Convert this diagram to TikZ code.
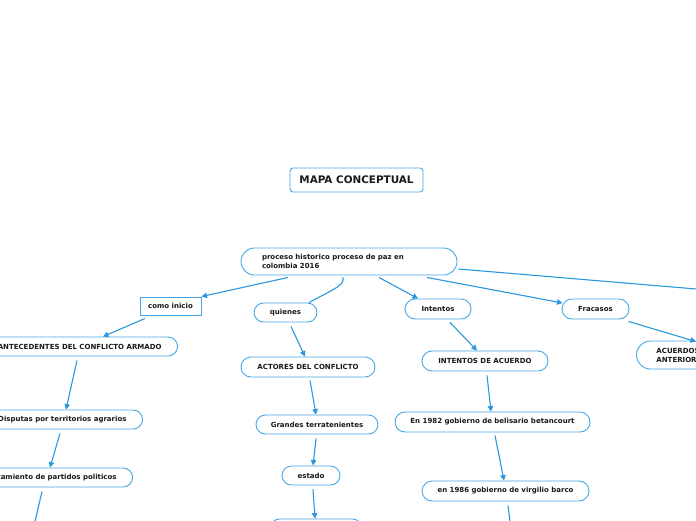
\documentclass[tikz,border=0pt]{standalone}
\usepackage{fontspec}
\setmainfont{DejaVu Sans}
\usetikzlibrary{arrows.meta,calc}
\definecolor{linec}{HTML}{2A98DE}
\definecolor{boxc}{HTML}{45A8E8}
\tikzset{
 box/.style={draw=boxc, line width=0.9pt, fill=white, font=\fontsize{7}{9}\selectfont\bfseries, text=black!90, inner sep=0pt, minimum height=19pt},
 pill/.style={box, rounded corners=9.5pt},
 conn/.style={draw=linec, line width=1.1pt, -{Triangle[length=5.5pt,width=5.5pt]}},
 plainconn/.style={draw=linec, line width=1.1pt},
}
\begin{document}
\begin{tikzpicture}[x=1pt,y=-1pt]
\useasboundingbox (0,0) rectangle (696,520);
\clip (0,0) rectangle (696,520);
\fill[white] (0,0) rectangle (696,520);
% nodes
\node[box, rounded corners=3pt, minimum width=133pt, minimum height=24pt, font=\fontsize{10.4}{12}\selectfont\bfseries] (title) at (356.5,180) {MAPA CONCEPTUAL};
\node[box, rounded corners=13.5pt, minimum height=27pt, text width=174pt, inner xsep=21pt, align=left] (root) at (349,261.5) {proceso historico proceso de paz en\\colombia 2016};
\node[box, minimum width=61pt, minimum height=18pt] (como) at (170.5,306) {como inicio};
\node[pill, anchor=east, inner xsep=16pt] (antec) at (178,346.5) {ANTECEDENTES DEL CONFLICTO ARMADO};
\node[pill, anchor=east, inner xsep=16pt] (disp) at (143,419.5) {Disputas por territorios agrarios};
\node[pill, anchor=east, inner xsep=16pt] (enf) at (133,477.5) {Enfrentamiento de partidos politicos};
\node[pill, minimum width=63pt] (quienes) at (285.5,312.5) {quienes};
\node[pill, minimum width=134pt, minimum height=20pt, rounded corners=10pt] (actores) at (308,367) {ACTORES DEL CONFLICTO};
\node[pill, minimum width=122pt] (grandes) at (317,424.5) {Grandes terratenientes};
\node[pill, minimum width=58pt] (estado) at (311,475.5) {estado};
\node[pill, minimum width=92pt] (bottom) at (316,528.5) {};
\node[pill, minimum width=66pt, minimum height=20pt, rounded corners=10pt] (intentos) at (438,309) {Intentos};
\node[pill, minimum width=126pt, minimum height=20pt, rounded corners=10pt] (iacuerdo) at (485,361) {INTENTOS DE ACUERDO};
\node[pill, minimum width=195pt, minimum height=20pt, rounded corners=10pt] (e82) at (492.5,422) {En 1982 gobierno de belisario betancourt};
\node[pill, minimum width=167pt, minimum height=20pt, rounded corners=10pt] (e86) at (505.5,491) {en 1986 gobierno de virgilio barco};
\node[pill, minimum width=67pt, minimum height=20pt, rounded corners=10pt] (fracasos) at (595.5,309) {Fracasos};
\node[box, rounded corners=14pt, minimum height=28pt, anchor=west, align=left, inner xsep=20pt] (acuerdos) at (636,355) {ACUERDOS\\ANTERIORES};
% free ends
\coordinate (offA) at (720,291);
\coordinate (offB) at (33,530);
\coordinate (offC) at (511,530);
% connectors
\draw[conn] ($(root.south)+(-61,2)$) -- (como.north east);
\draw[plainconn] ($(root.south)+(-6,2)$) .. controls ($(root.south)+(-5,10)$) and ($(root.south)+(-12,12)$) .. ($(quienes.north)+(23.5,0)$);
\draw[conn] ($(root.south)+(30,2)$) -- ($(intentos.north)+(-20,0)$);
\draw[conn] ($(root.south)+(78,2)$) -- ($(fracasos.west)+(1,-6)$);
\draw[plainconn] ($(root.east)+(1,7.5)$) -- (offA);
\draw[conn] ($(como.south)+(-25.5,3)$) -- ($(antec.north east)+(-75,0)$);
\draw[conn] ($(antec.south east)+(-101,4)$) -- ($(disp.north east)+(-77,0)$);
\draw[conn] ($(disp.south east)+(-83,4)$) -- ($(enf.north east)+(-83,0)$);
\draw[plainconn] ($(enf.south east)+(-91,4)$) -- (offB);
\draw[conn] ($(quienes.south)+(5.5,4)$) -- ($(actores.north)+(-3,0)$);
\draw[conn] ($(actores.south)+(2,3)$) -- ($(grandes.north)+(-1,0)$);
\draw[conn] ($(grandes.south)+(-1,4)$) -- ($(estado.north)+(2,0)$);
\draw[conn] ($(estado.south)+(2,4)$) -- ($(bottom.north)+(-1,0)$);
\draw[conn] ($(intentos.south)+(12,3)$) -- ($(iacuerdo.north)+(-8,0)$);
\draw[conn] ($(iacuerdo.south)+(2,4)$) -- ($(e82.north)+(-1.5,0)$);
\draw[conn] ($(e82.south)+(2.5,3)$) -- ($(e86.north)+(-1.5,0)$);
\draw[plainconn] ($(e86.south)+(2.5,4)$) -- (offC);
\draw[conn] ($(fracasos.south east)+(-1,2)$) -- ($(acuerdos.north west)+(60,1)$);
\end{tikzpicture}
\end{document}
